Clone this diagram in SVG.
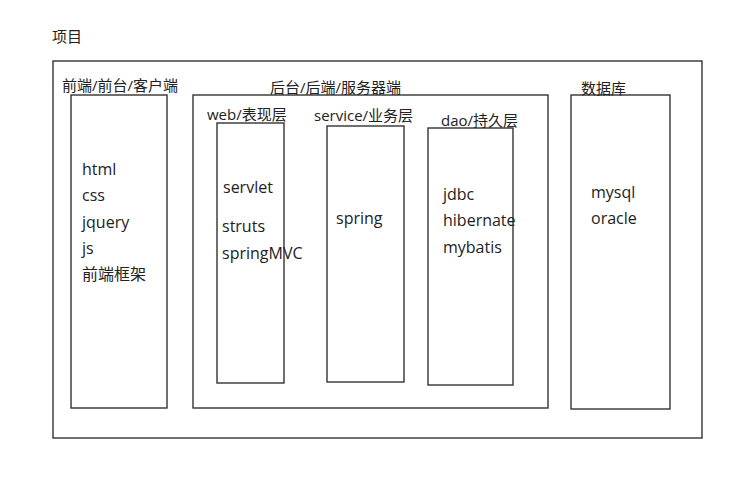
<svg xmlns="http://www.w3.org/2000/svg" width="735" height="482" viewBox="0 0 735 482">
<style>
.box{fill:none;stroke:#333;stroke-width:1.4}
.t{font-family:"Open Sans","Noto Sans CJK SC",sans-serif;font-size:16px;fill:#222}
.h{font-family:"Open Sans","Noto Sans CJK SC",sans-serif;font-size:15px;fill:#222}
</style>
<rect width="735" height="482" fill="#fff"/>
<text class="h" x="52" y="42">项目</text>
<g id="project"><rect class="box" x="53" y="61" width="649" height="377"/></g>
<g id="frontend">
<rect class="box" x="71" y="95" width="96" height="313"/>
<text class="h" x="62" y="91">前端/前台/客户端</text>
<text class="t" x="82" y="175">html</text>
<text class="t" x="82" y="201">css</text>
<text class="t" x="82" y="228">jquery</text>
<text class="t" x="82" y="254">js</text>
<text class="t" x="82" y="280">前端框架</text>
</g>
<g id="backend">
<rect class="box" x="193" y="95" width="355" height="313"/>
<text class="h" x="270" y="93">后台/后端/服务器端</text>
</g>
<g id="web">
<rect class="box" x="217" y="123" width="67" height="260"/>
<text class="h" x="207" y="120">web/表现层</text>
<text class="t" x="223" y="193">servlet</text>
<text class="t" x="222" y="232">struts</text>
<text class="t" x="222" y="259">springMVC</text>
</g>
<g id="service">
<rect class="box" x="327" y="126" width="77" height="256"/>
<text class="h" x="314" y="121">service/业务层</text>
<text class="t" x="336" y="224">spring</text>
</g>
<g id="dao">
<rect class="box" x="428" y="128" width="85" height="257"/>
<text class="h" x="441" y="126">dao/持久层</text>
<text class="t" x="443" y="200">jdbc</text>
<text class="t" x="443" y="226">hibernate</text>
<text class="t" x="443" y="253">mybatis</text>
</g>
<g id="database">
<rect class="box" x="571" y="95" width="99" height="314"/>
<text class="h" x="581" y="94">数据库</text>
<text class="t" x="591" y="198">mysql</text>
<text class="t" x="591" y="224">oracle</text>
</g>
<g id="connectors"></g>
</svg>
